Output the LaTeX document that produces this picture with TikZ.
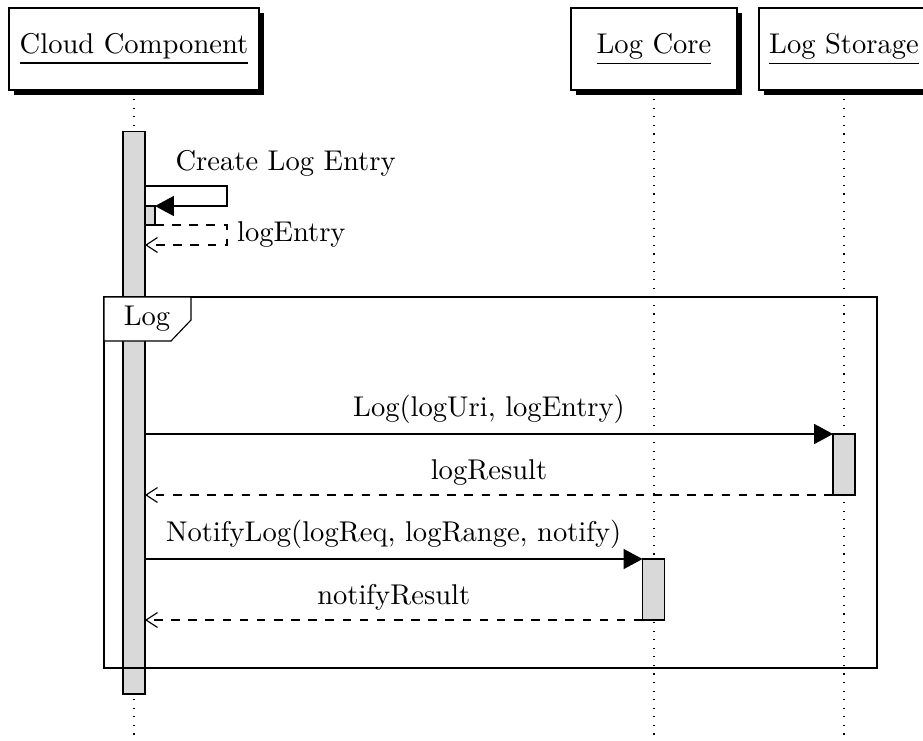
\documentclass[tikz,border=0pt]{standalone}
\usetikzlibrary{arrows.meta,shadows,backgrounds}
\tikzset{
  thread/.style={draw, fill=white, inner sep=0pt, minimum height=28.7pt,
    drop shadow={fill=black, opacity=1, shadow xshift=1.75pt, shadow yshift=-1.75pt}},
  activity/.style={draw, fill=gray!30, inner sep=0pt, outer sep=0pt, minimum width=7.7pt},
  lifeline/.style={dash pattern=on 0.4pt off 2.6pt},
  call/.style={-{Triangle[length=6.6pt,width=7pt]}},
  reply/.style={dashed, -{Straight Barb[length=4pt,width=5.2pt]}}
}
\begin{document}
\begin{tikzpicture}[x=0.35pt, y=-0.35pt]
      \useasboundingbox (0,0) rectangle (923,740);
      \node[thread, minimum width=87.5pt] (cc) at (134,49) {\underline{Cloud Component}};
      \node[thread, minimum width=58.1pt] (core) at (654,49) {\underline{Log Core}};
      \node[thread, minimum width=59.5pt] (store) at (844,49) {\underline{Log Storage}};
      \coordinate (cc end) at (134,740);
      \coordinate (core end) at (654,740);
      \coordinate (store end) at (844,740);
      \begin{pgfonlayer}{background}
        \draw[lifeline] (cc) -- (cc end);
        \draw[lifeline] (core) -- (core end);
        \draw[lifeline] (store) -- (store end);
      \end{pgfonlayer}
      \node[activity, minimum height=197pt] (cc act) at (134,412.5) {};
      \node[activity, minimum width=3.5pt, minimum height=6.65pt] (self act) at (150,215.5) {};
      \node[activity, minimum height=21.35pt] (store act) at (844,464.5) {};
      \node[activity, minimum height=21.35pt] (core act) at (653.5,589.5) {};
      \coordinate (self turn) at (227,186);
      \coordinate (self back) at (227,245);
      \draw[call] (cc act.east |- self turn) -- node[near start, above right] {Create Log Entry} (self turn) |- (self act.north east);
      \draw[reply] (self act.south east) -| node[near end, right] {logEntry} (self back) -- (cc act.east |- self back);
      \draw[call] (cc act.east |- store act.north) -- node[above] {Log(logUri, logEntry)} (store act.north west);
      \draw[reply] (store act.south west) -- node[above] {logResult} (cc act.east |- store act.south);
      \draw[call] (cc act.east |- core act.north) -- node[above] {NotifyLog(logReq, logRange, notify)} (core act.north west);
      \draw[reply] (core act.south west) -- node[above] {notifyResult} (cc act.east |- core act.south);
      \draw (104,297) rectangle (877,668);
      \draw[fill=white] (104,297) -| (191,320) -- (171,341) -- (104,341) -- cycle;
      \node (log) at (147,319) {Log};
    \end{tikzpicture}
\end{document}
